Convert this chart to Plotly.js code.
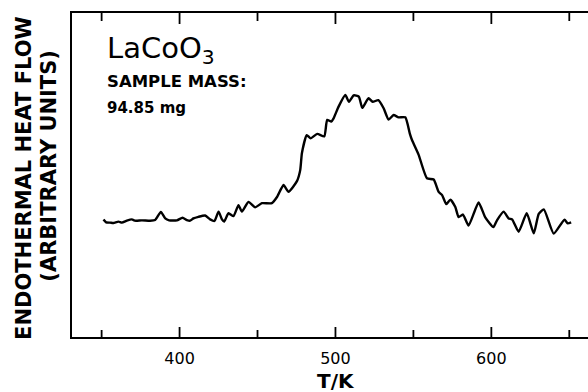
<!DOCTYPE html>
<html>
<head>
<meta charset="utf-8">
<script src="https://cdn.plot.ly/plotly-3.0.1.min.js"></script>
<style>
  html, body { margin: 0; padding: 0; background: #fff; }
  #chart { width: 588px; height: 392px; }
</style>
</head>
<body>
<div id="chart"></div>
<script>
// DSC trace of LaCoO3: temperature (K) and endothermal heat flow (arbitrary units)
const temperature = [
  351.2, 352.9, 355.5, 357.6, 360.8, 363.0, 366.2, 369.4, 371.5, 375.8,
  381.1, 384.3, 388.0, 390.8, 393.3, 398.3, 401.9, 404.7, 406.8, 408.9,
  412.1, 416.4, 419.6, 422.4, 425.0, 427.2, 428.6, 431.4, 434.6, 437.8,
  440.0, 444.2, 448.5, 452.8, 459.2, 462.5, 466.7, 469.9, 475.3, 477.4,
  478.5, 481.6, 484.1, 488.3, 492.8, 494.7, 497.3, 498.8, 502.0, 506.3,
  508.7, 511.7, 515.0, 517.2, 521.2, 523.9, 527.5, 530.9, 534.1, 537.3,
  540.5, 544.8, 547.7, 549.1, 553.3, 558.7, 563.0, 566.2, 568.4, 571.1,
  573.7, 576.9, 579.0, 581.8, 585.4, 591.8, 596.1, 601.3, 603.7, 607.9,
  611.1, 613.3, 617.5, 622.7, 627.2, 630.4, 633.7, 640.0, 646.9, 649.0,
  651.2
];
const heatFlow = [
  36.3, 35.4, 35.3, 35.2, 35.6, 35.3, 35.9, 36.3, 35.9, 36.0,
  35.9, 36.1, 38.6, 36.6, 36.0, 36.0, 36.8, 36.1, 35.9, 36.6,
  37.1, 37.5, 36.3, 35.8, 38.7, 36.3, 35.6, 38.2, 37.3, 40.7,
  38.7, 41.7, 40.0, 41.3, 41.3, 43.2, 46.9, 44.8, 48.1, 51.5,
  56.8, 62.3, 61.3, 62.7, 61.9, 67.0, 66.5, 67.5, 71.1, 74.7,
  72.6, 74.6, 74.2, 70.7, 73.7, 72.6, 73.1, 70.6, 67.1, 68.5,
  67.8, 67.8, 62.8, 60.8, 56.3, 49.0, 48.6, 44.8, 43.8, 41.0,
  42.4, 40.1, 37.0, 37.8, 34.4, 41.5, 36.9, 33.9, 36.1, 38.7,
  36.6, 36.3, 32.5, 38.2, 32.0, 38.0, 39.4, 31.9, 36.2, 35.1,
  35.4
];
// labelled ticks every 100 K, unlabelled ones half-way between
const majorTicks = [400, 500, 600];
const majorTickText = ['400', '500', '600'];
const minorTicks = [350, 450, 550, 650];

const FONT = 'DejaVu Sans, sans-serif';
const PLOT_H = 392 - 13 - 55;

// inward tick marks on the bottom and top frame lines
function tickShapes(values, lenBottom, lenTop) {
  const out = [];
  values.forEach(v => {
    out.push({ type: 'line', xref: 'x', yref: 'paper', x0: v, x1: v, y0: 0, y1: lenBottom / PLOT_H,
               line: { color: '#000', width: 1.8 }, layer: 'above' });
    out.push({ type: 'line', xref: 'x', yref: 'paper', x0: v, x1: v, y0: 1, y1: 1 - lenTop / PLOT_H,
               line: { color: '#000', width: 1.8 }, layer: 'above' });
  });
  return out;
}

const trace = {
  x: temperature,
  y: heatFlow,
  type: 'scatter',
  mode: 'lines',
  line: { color: '#000', width: 2.4, shape: 'spline', smoothing: 0.5 },
  hoverinfo: 'skip'
};

const layout = {
  width: 588,
  height: 392,
  margin: { l: 72, r: 0, t: 13, b: 55 },
  paper_bgcolor: '#fff',
  plot_bgcolor: '#fff',
  showlegend: false,
  font: { family: FONT, color: '#000' },
  xaxis: {
    range: [331, 662],
    tickmode: 'array',
    tickvals: majorTicks,
    ticktext: majorTickText,
    ticks: '',
    ticklabelstandoff: 6,
    showline: true,
    linecolor: '#000',
    linewidth: 2,
    mirror: true,
    showgrid: false,
    zeroline: false,
    tickfont: { family: FONT, size: 16, color: '#000' }
  },
  yaxis: {
    range: [0, 100],
    showline: true,
    linecolor: '#000',
    linewidth: 2,
    mirror: false,
    ticks: '',
    showticklabels: false,
    showgrid: false,
    zeroline: false
  },
  shapes: tickShapes(majorTicks, 10, 11).concat(tickShapes(minorTicks, 7, 8)),
  annotations: [
    { text: 'LaCoO<sub>3</sub>', xref: 'paper', yref: 'paper', x: 0.063, y: 0.886,
      xanchor: 'left', yanchor: 'middle', showarrow: false,
      font: { family: FONT, size: 29, color: '#000' } },
    { text: '<b>SAMPLE MASS:</b>', xref: 'paper', yref: 'paper', x: 0.064, y: 0.79,
      xanchor: 'left', yanchor: 'middle', showarrow: false,
      font: { family: FONT, size: 16.5, color: '#000' } },
    { text: '<b>94.85 mg</b>', xref: 'paper', yref: 'paper', x: 0.064, y: 0.708,
      xanchor: 'left', yanchor: 'middle', showarrow: false,
      font: { family: FONT, size: 15, color: '#000' } },
    { text: '<b>ENDOTHERMAL HEAT FLOW</b>', xref: 'paper', yref: 'paper', x: -0.093, y: 0.491,
      xanchor: 'center', yanchor: 'middle', textangle: -90, showarrow: false,
      font: { family: FONT, size: 21, color: '#000' } },
    { text: '<b>(ARBITRARY UNITS)</b>', xref: 'paper', yref: 'paper', x: -0.045, y: 0.528,
      xanchor: 'center', yanchor: 'middle', textangle: -90, showarrow: false,
      font: { family: FONT, size: 21, color: '#000' } },
    { text: '<b>T/K</b>', xref: 'paper', yref: 'paper', x: 0.511, y: -0.136,
      xanchor: 'center', yanchor: 'middle', showarrow: false,
      font: { family: FONT, size: 20, color: '#000' } }
  ]
};

Plotly.newPlot('chart', [trace], layout, { staticPlot: true, displayModeBar: false });
</script>
</body>
</html>
